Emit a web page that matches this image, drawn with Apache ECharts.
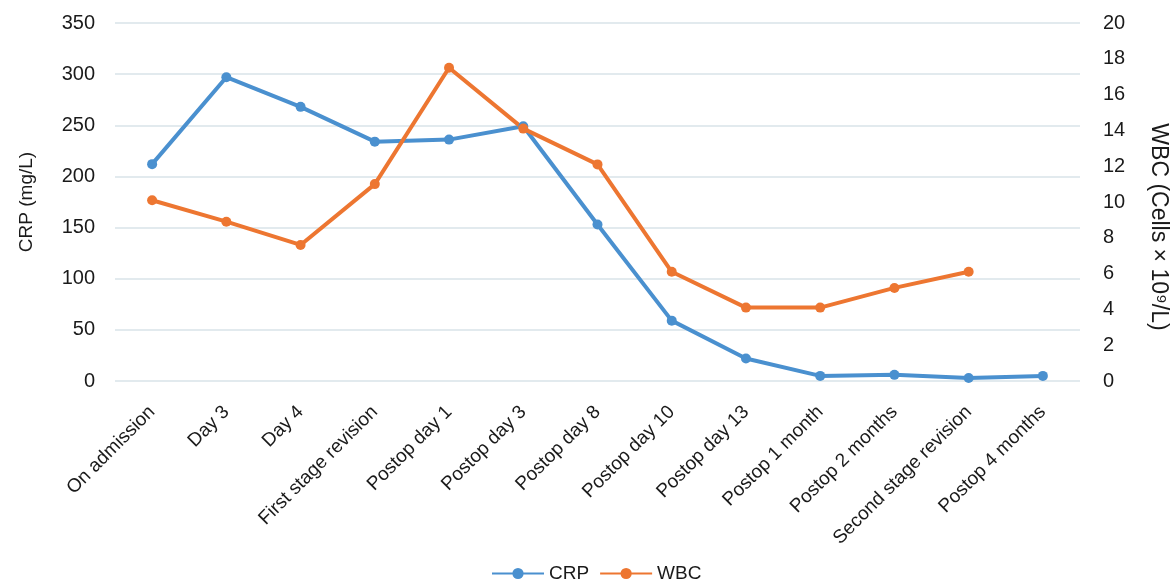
<!DOCTYPE html>
<html>
<head>
<meta charset="utf-8">
<script src="https://cdn.jsdelivr.net/npm/echarts@6/dist/echarts.min.js"></script>
<style>
  html, body {margin: 0; padding: 0; background: #fff;}
  #chart {width: 1171px; height: 584px;}
</style>
</head>
<body>
<div id="chart"></div>
<script>
const categories = [
  'On admission', 'Day 3', 'Day 4', 'First stage revision', 'Postop day 1',
  'Postop day 3', 'Postop day 8', 'Postop day 10', 'Postop day 13',
  'Postop 1 month', 'Postop 2 months', 'Second stage revision', 'Postop 4 months'
];
const crp = [212, 297, 268, 234, 236, 249, 153, 59, 22, 5, 6, 3, 5];
const wbc = [10.1, 8.9, 7.6, 11.0, 17.5, 14.1, 12.1, 6.1, 4.1, 4.1, 5.2, 6.1, null];

const font = '"Liberation Sans", Arial, sans-serif';
const textColor = '#1a1a1a';
const gridColor = '#d9e3e9';

const chart = echarts.init(document.getElementById('chart'));
const option = {
  backgroundColor: '#fff',
  textStyle: {fontFamily: font},
  grid: {left: 115, right: 91, top: 23, bottom: 203, outerBoundsMode: 'none'},
  legend: {
    left: 486,
    top: 559,
    itemWidth: 52,
    itemHeight: 14,
    itemGap: 10,
    textStyle: {fontSize: 19, color: textColor},
    data: ['CRP', 'WBC'],
  },
  xAxis: {
    type: 'category',
    data: categories,
    boundaryGap: true,
    axisLine: {show: false},
    axisTick: {show: false},
    axisLabel: {
      rotate: 45,
      interval: 0,
      margin: 28,
      fontSize: 19,
      color: textColor,
    },
  },
  yAxis: [
    {
      type: 'value',
      min: 0,
      max: 350,
      interval: 50,
      name: 'CRP (mg/L)',
      nameLocation: 'middle',
      nameGap: 79,
      nameTextStyle: {fontSize: 19, color: textColor},
      axisLine: {show: false},
      axisTick: {show: false},
      axisLabel: {fontSize: 20, color: textColor, margin: 20},
      splitLine: {lineStyle: {color: gridColor, width: 1.5}},
    },
    {
      type: 'value',
      min: 0,
      max: 20,
      interval: 2,
      position: 'right',
      name: 'WBC (Cells × 10⁹/L)',
      nameLocation: 'middle',
      nameRotate: -90,
      nameGap: 67,
      nameTextStyle: {fontSize: 23, color: textColor, padding: [0, 0, 0, 50]},
      axisLine: {show: false},
      axisTick: {show: false},
      axisLabel: {fontSize: 20, color: textColor, margin: 23},
      splitLine: {show: false},
    },
  ],
  series: [
    {
      name: 'CRP',
      type: 'line',
      yAxisIndex: 0,
      data: crp,
      symbol: 'circle',
      symbolSize: 10,
      color: '#4a90cf',
      lineStyle: {width: 4},
    },
    {
      name: 'WBC',
      type: 'line',
      yAxisIndex: 1,
      data: wbc,
      symbol: 'circle',
      symbolSize: 10,
      color: '#ed7631',
      lineStyle: {width: 4},
    },
  ],
};
chart.setOption(option);
</script>
</body>
</html>
